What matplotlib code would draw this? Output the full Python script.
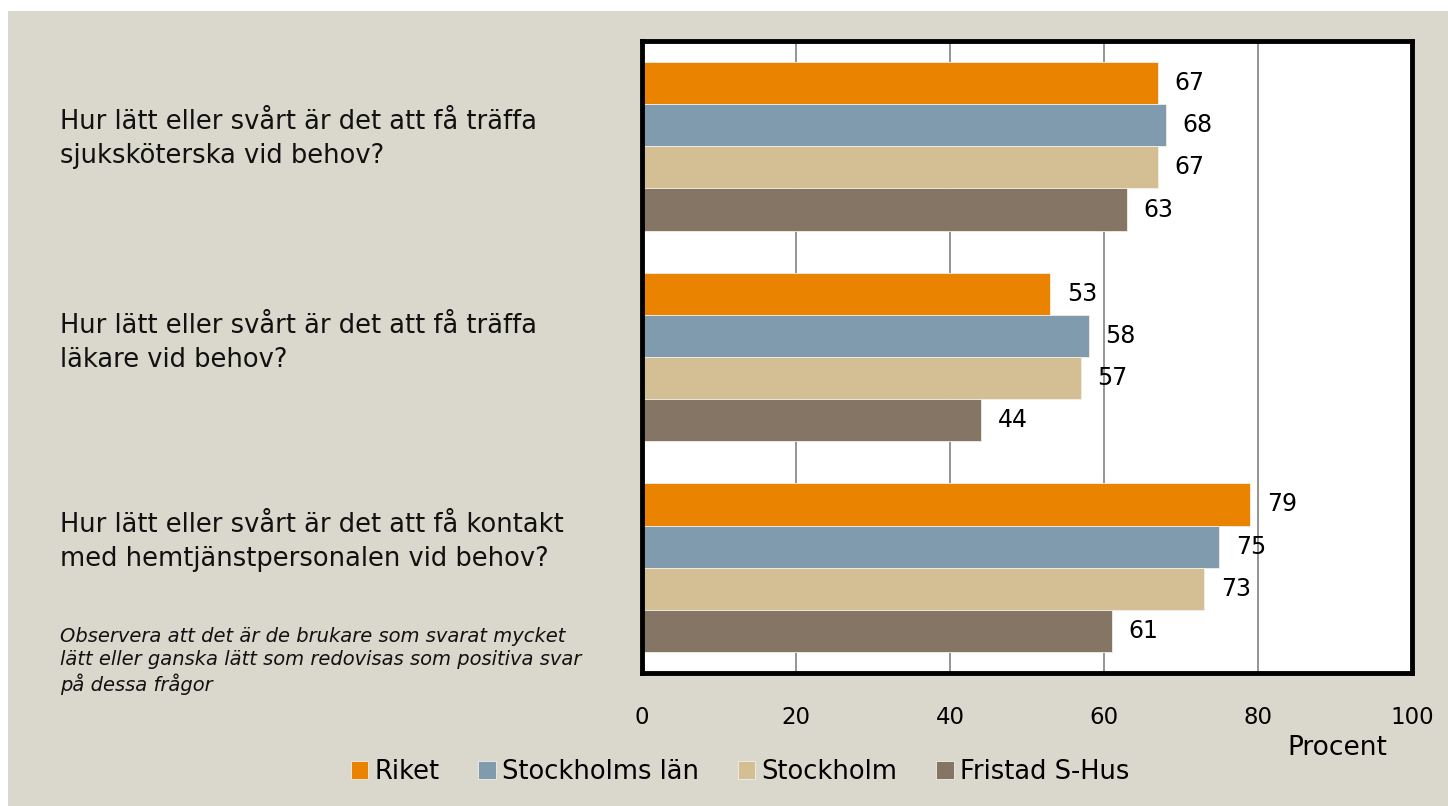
import matplotlib
matplotlib.use("Agg")
import matplotlib.pyplot as plt
from matplotlib.patches import Rectangle
import numpy as np

plt.rcParams['font.family'] = ['DejaVu Sans']

questions = [
    "Hur lätt eller svårt är det att få träffa\nsjuksköterska vid behov?",
    "Hur lätt eller svårt är det att få träffa\nläkare vid behov?",
    "Hur lätt eller svårt är det att få kontakt\nmed hemtjänstpersonalen vid behov?",
]
series_names = ["Riket", "Stockholms län", "Stockholm", "Fristad S-Hus"]
riket = [67, 53, 79]
stockholms_lan = [68, 58, 75]
stockholm = [67, 57, 73]
fristad = [63, 44, 61]
xticks = [0, 20, 40, 60, 80, 100]
note = ("Observera att det är de brukare som svarat mycket\n"
        "lätt eller ganska lätt som redovisas som positiva svar\n"
        "på dessa frågor")
xlabel = "Procent"

colors = ["#E98300", "#7F9BAD", "#D4BF95", "#857565"]
bg = "#DAD8CC"

W, H = 1448, 806
fig = plt.figure(figsize=(W / 100, H / 100), dpi=100)
fig.patch.set_facecolor("white")
fig.patches.append(Rectangle((8 / W, 0), 1 - 8 / W, 1 - 11 / H,
                             transform=fig.transFigure, facecolor=bg,
                             edgecolor="none", zorder=-10))

L, R, T, B = 642, 1412, 41, 673
ax = fig.add_axes([L / W, 1 - B / H, (R - L) / W, (B - T) / H])
ax.set_facecolor("white")

data = [riket, stockholms_lan, stockholm, fristad]
n = len(questions)
bh = 0.2
y = np.arange(n)
for i, vals in enumerate(data):
    ys = y - 0.3 + i * bh
    ax.barh(ys, vals, height=bh, color=colors[i], edgecolor="#f2efe6",
            linewidth=0.6, zorder=3, label=series_names[i])
    for yy, v in zip(ys, vals):
        ax.annotate(str(v), (v, yy), xytext=(12, 0), textcoords="offset points",
                    ha="left", va="center", fontsize=17, color="black", zorder=4)

ax.set_xlim(0, 100)
ax.set_ylim(n - 0.5, -0.5)
ax.set_xticks(xticks)
ax.set_xticklabels([str(t) for t in xticks], fontsize=16.5)
ax.tick_params(axis="x", length=0, pad=24)
ax.set_yticks([])
ax.grid(axis="x", color="#8c8c8c", linewidth=1.3, zorder=0)
for s in ax.spines.values():
    s.set_linewidth(3.5)
    s.set_color("black")
    s.set_zorder(5)

# category labels
label_y = [139, 343, 542]
for q, yy in zip(questions, label_y):
    fig.text(60 / W, 1 - yy / H, q, ha="left", va="center", fontsize=18.5,
             linespacing=1.4, color="#111111")

fig.text(60 / W, 1 - 661 / H, note, ha="left", va="center", fontsize=14,
         style="italic", linespacing=1.25, color="#111111")

fig.text(1337 / W, 1 - 748 / H, xlabel, ha="center", va="center", fontsize=19)

handles, labels = ax.get_legend_handles_labels()
fig.legend(handles, labels, loc="center", bbox_to_anchor=(740 / W, 1 - 772 / H),
           ncol=4, frameon=False, fontsize=18.5, handlelength=0.68,
           handleheight=0.68, handletextpad=0.25, columnspacing=1.5)

fig.savefig("out.png", dpi=100, facecolor=fig.get_facecolor())
